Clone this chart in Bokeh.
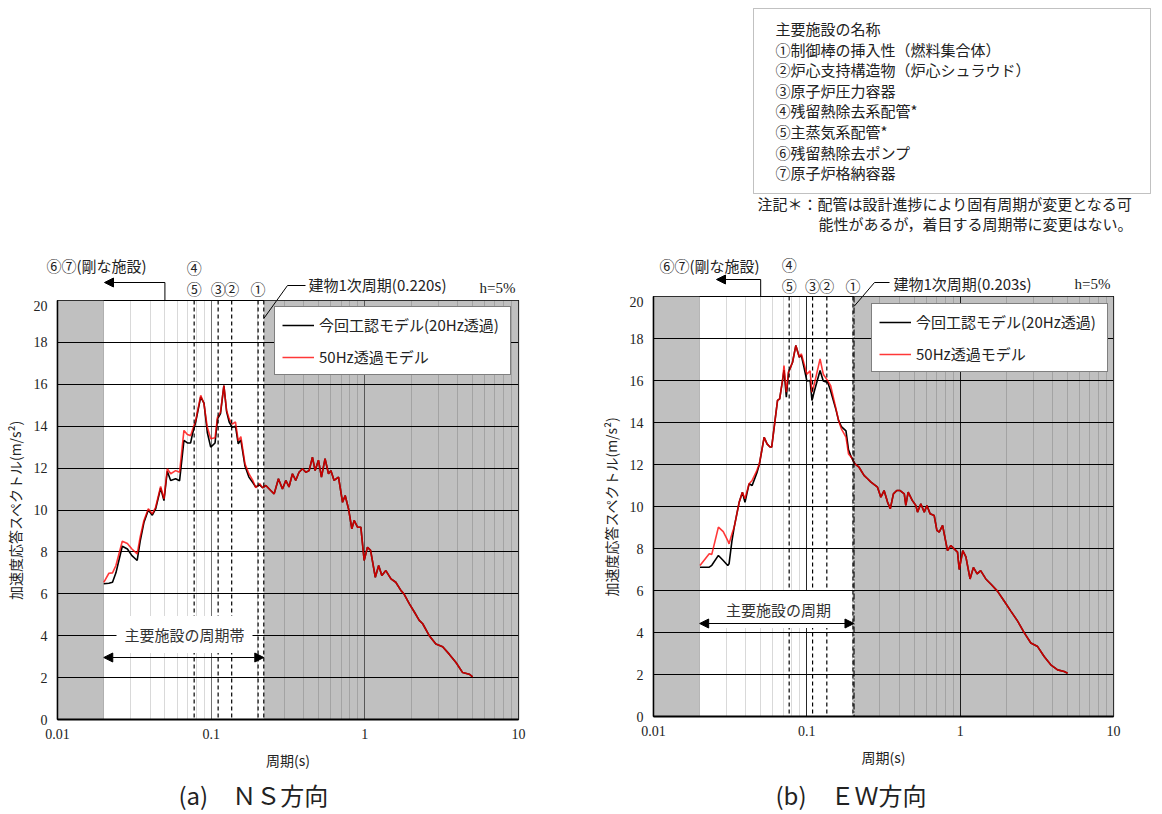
import math
from bokeh.plotting import figure
from bokeh.models import (Range1d, FixedTicker, CustomJSTickFormatter, Span, Label, Arrow,
                          NormalHead, BoxAnnotation, Legend, LegendItem)
from bokeh.layouts import row, column
from bokeh.embed import file_html
from bokeh.resources import INLINE

JP = "Noto Sans CJK JP"
SERIF = "Liberation Serif"
TXT = "#222222"

# ---------------- data ----------------
ns_period = [0.0200, 0.0216, 0.0228, 0.0240, 0.0264, 0.0285, 0.0305, 0.0330, 0.0345, 0.0365,
             0.0390, 0.0414, 0.0435, 0.0469, 0.0493, 0.0518, 0.0545, 0.0587, 0.0623, 0.0665,
             0.0700, 0.0735, 0.0754, 0.0793, 0.0855, 0.0898, 0.0944, 0.0993, 0.106, 0.110,
             0.115, 0.121, 0.126, 0.131, 0.137, 0.144, 0.150, 0.156, 0.166, 0.176,
             0.187, 0.195, 0.207, 0.216, 0.227, 0.244, 0.257, 0.274, 0.291, 0.306,
             0.321, 0.338, 0.355, 0.373, 0.393, 0.413, 0.434, 0.456, 0.475, 0.499,
             0.522, 0.551, 0.580, 0.601, 0.631, 0.674, 0.716, 0.745, 0.783, 0.823,
             0.852, 0.896, 0.942, 0.990, 1.04, 1.09, 1.17, 1.23, 1.29, 1.37,
             1.48, 1.59, 1.72, 1.80, 1.95, 2.10, 2.26, 2.38, 2.62, 2.90,
             3.21, 3.54, 3.92, 4.33, 4.78, 5.03]
ns_acc_20hz = [6.48, 6.50, 6.55, 7.00, 8.27, 8.14, 7.82, 7.59, 8.50, 9.40,
               10.00, 9.75, 10.05, 11.05, 10.45, 11.85, 11.41, 11.49, 11.40, 13.32,
               13.20, 13.20, 13.60, 14.20, 15.40, 15.10, 13.70, 13.00, 13.20, 14.35,
               14.60, 15.94, 14.70, 14.20, 13.95, 14.00, 13.16, 13.35, 12.10, 11.57,
               11.30, 11.10, 11.20, 11.06, 11.17, 10.93, 10.77, 11.49, 11.00, 11.41,
               11.10, 11.73, 11.41, 11.80, 11.97, 11.80, 11.88, 12.52, 11.88, 12.38,
               11.57, 12.45, 11.73, 11.88, 11.41, 11.57, 10.37, 10.69, 10.06, 9.10,
               9.50, 9.18, 9.18, 7.59, 8.22, 8.07, 6.79, 7.35, 6.87, 7.11,
               6.71, 6.55, 6.15, 5.99, 5.52, 5.13, 4.73, 4.57, 4.01, 3.60,
               3.47, 3.12, 2.72, 2.24, 2.16, 2.03]
ns_acc_50hz = [6.55, 6.98, 7.00, 7.35, 8.51, 8.40, 8.14, 7.91, 8.70, 9.50,
               10.06, 9.82, 10.13, 11.12, 10.53, 11.97, 11.73, 11.88, 11.80, 13.80,
               13.60, 13.55, 13.80, 14.27, 15.47, 15.07, 13.95, 13.40, 13.45, 14.43,
               14.67, 15.94, 14.75, 14.35, 14.10, 14.20, 13.30, 13.50, 12.20, 11.73,
               11.40, 11.06, 11.26, 11.06, 11.17, 10.93, 10.77, 11.49, 11.00, 11.41,
               11.10, 11.73, 11.41, 11.80, 11.97, 11.80, 11.88, 12.52, 11.88, 12.38,
               11.57, 12.45, 11.73, 11.88, 11.41, 11.57, 10.37, 10.69, 10.06, 9.10,
               9.50, 9.18, 9.18, 7.59, 8.22, 8.07, 6.79, 7.35, 6.87, 7.11,
               6.71, 6.55, 6.15, 5.99, 5.52, 5.13, 4.73, 4.57, 4.01, 3.60,
               3.47, 3.12, 2.72, 2.24, 2.16, 2.03]

ew_period = [0.0201, 0.0231, 0.0240, 0.0265, 0.0285, 0.0305, 0.0311, 0.0325, 0.0336, 0.0362,
             0.0380, 0.0395, 0.0420, 0.0440, 0.0472, 0.0490, 0.0527, 0.0550, 0.0575, 0.0590,
             0.0644, 0.0665, 0.0694, 0.0710, 0.0735, 0.0760, 0.0807, 0.0848, 0.0893, 0.0920,
             0.0960, 0.100, 0.105, 0.108, 0.112, 0.122, 0.128, 0.137, 0.143, 0.155,
             0.161, 0.168, 0.180, 0.187, 0.195, 0.206, 0.219, 0.236, 0.249, 0.262,
             0.289, 0.304, 0.319, 0.336, 0.350, 0.367, 0.386, 0.406, 0.432, 0.442,
             0.458, 0.487, 0.514, 0.527, 0.554, 0.583, 0.607, 0.637, 0.677, 0.705,
             0.730, 0.768, 0.787, 0.827, 0.869, 0.914, 0.961, 0.986, 1.04, 1.09,
             1.16, 1.22, 1.29, 1.36, 1.47, 1.59, 1.75, 1.94, 2.14, 2.37,
             2.62, 2.89, 3.20, 3.53, 3.90, 4.32, 4.77, 5.02]
ew_acc_20hz = [7.11, 7.11, 7.20, 7.67, 7.43, 7.19, 7.27, 8.38, 9.02, 10.20,
               10.68, 10.20, 11.08, 11.00, 11.60, 12.00, 13.30, 12.98, 12.83, 12.83,
               15.05, 15.13, 16.00, 16.50, 15.20, 16.40, 16.87, 17.67, 17.11, 17.20,
               16.60, 15.98, 16.00, 15.05, 15.50, 16.48, 15.98, 15.90, 15.50, 14.60,
               14.10, 13.80, 13.60, 12.70, 12.35, 12.03, 11.87, 11.48, 11.32, 11.16,
               10.92, 10.44, 10.76, 10.21, 9.89, 10.60, 10.76, 10.76, 10.60, 10.05,
               10.68, 10.29, 10.05, 9.73, 10.13, 9.73, 10.05, 9.65, 9.57, 8.86,
               8.78, 9.10, 8.70, 7.90, 8.14, 7.98, 7.83, 7.00, 7.90, 7.60,
               6.55, 7.10, 6.79, 6.95, 6.55, 6.30, 5.97, 5.49, 5.02, 4.54,
               3.98, 3.50, 3.33, 2.86, 2.46, 2.22, 2.14, 2.06]
ew_acc_50hz = [7.19, 7.75, 7.72, 9.02, 8.80, 8.38, 8.22, 8.70, 9.02, 10.20,
               10.68, 10.37, 11.08, 11.24, 11.71, 12.03, 13.30, 12.98, 12.83, 12.83,
               15.05, 15.13, 16.00, 16.71, 15.44, 16.40, 16.87, 17.67, 17.11, 17.27,
               16.79, 16.30, 16.46, 15.44, 15.84, 17.03, 16.30, 15.98, 15.75, 14.65,
               14.10, 13.70, 13.30, 12.50, 12.35, 12.03, 11.87, 11.48, 11.32, 11.16,
               10.92, 10.44, 10.76, 10.21, 9.89, 10.60, 10.76, 10.76, 10.60, 10.05,
               10.68, 10.29, 10.05, 9.73, 10.13, 9.73, 10.05, 9.65, 9.57, 8.86,
               8.78, 9.10, 8.70, 7.90, 8.14, 7.98, 7.83, 7.00, 7.90, 7.60,
               6.55, 7.10, 6.79, 6.95, 6.55, 6.30, 5.97, 5.49, 5.02, 4.54,
               3.98, 3.50, 3.33, 2.86, 2.46, 2.22, 2.14, 2.06]

x_major_ticks = [0.01, 0.1, 1, 10]
x_minor_ticks = [0.02, 0.03, 0.04, 0.05, 0.06, 0.07, 0.08, 0.09,
                 0.2, 0.3, 0.4, 0.5, 0.6, 0.7, 0.8, 0.9,
                 2, 3, 4, 5, 6, 7, 8, 9]
y_ticks = [0, 2, 4, 6, 8, 10, 12, 14, 16, 18, 20]

rigid_limit = 0.02          # 50 Hz : left edge of the facility period band
rigid_boundary = 0.05       # ⑥⑦ (rigid facilities) leader
ns_building_period = 0.220
ew_building_period = 0.203
facility_marks = ["①", "②", "③", "⑤"]
ns_facility_periods = [0.202, 0.136, 0.111, 0.0775]
ew_facility_periods = [0.200, 0.135, 0.109, 0.0767]
legend_labels = ["今回工認モデル(20Hz透過)", "50Hz透過モデル"]
facility_names = ["主要施設の名称",
                  "①制御棒の挿入性（燃料集合体）",
                  "②炉心支持構造物（炉心シュラウド）",
                  "③原子炉圧力容器",
                  "④残留熱除去系配管*",
                  "⑤主蒸気系配管*",
                  "⑥残留熱除去ポンプ",
                  "⑦原子炉格納容器"]
note_lines = ["注記＊：配管は設計進捗により固有周期が変更となる可",
              "能性があるが，着目する周期帯に変更はない。"]

X_MIN, X_MAX = x_major_ticks[0], x_major_ticks[-1]
Y_MIN, Y_MAX = y_ticks[0], y_ticks[-1]
PAGE_H = 812
BOTTOM_H = 36


def head():
    return NormalHead(size=9, fill_color="black", line_color="black")


def strip(W, H, xr, yr):
    f = figure(width=W, height=H, x_axis_type="log", x_range=xr, y_range=yr,
               x_axis_location=None, y_axis_location=None,
               output_backend="svg", toolbar_location=None, frame_align=False,
               min_border=0, min_border_left=0, min_border_right=0,
               min_border_top=0, min_border_bottom=0)
    f.outline_line_color = None
    f.background_fill_color = "white"
    f.border_fill_color = "white"
    f.grid.visible = False
    return f


def make_side(cfg):
    W = cfg["width"]
    page_x = cfg["page_x"]
    top_h = cfg["top_h"]
    bl, fw, fh = cfg["border_left"], cfg["frame_w"], cfg["frame_h"]
    chart_h = PAGE_H - top_h - BOTTOM_H
    f_left = page_x + bl                 # image x of frame left
    f_top = top_h                        # image y of frame top
    f_bottom = f_top + fh
    lx0, lx1 = math.log10(X_MIN), math.log10(X_MAX)

    def dx(px):
        return 10 ** (lx0 + (px - f_left) / fw * (lx1 - lx0))

    def dy(py):
        return (f_bottom - py) / fh * (Y_MAX - Y_MIN)

    # -------- main chart --------
    p = figure(width=W, height=chart_h, x_axis_type="log",
               x_range=Range1d(X_MIN, X_MAX), y_range=Range1d(Y_MIN, Y_MAX),
               output_backend="svg", toolbar_location=None, frame_align=False,
               min_border_left=bl, min_border_top=0,
               min_border_right=W - bl - fw, min_border_bottom=chart_h - fh)
    p.background_fill_color = "white"
    p.border_fill_color = "white"
    p.outline_line_color = "black"
    p.outline_line_width = 1.2

    bp = cfg["building"]
    p.quad(left=[X_MIN, bp], right=[rigid_limit, X_MAX], bottom=Y_MIN, top=Y_MAX,
           fill_color="#c0c0c0", line_color=None, level="image")

    ticker = FixedTicker(ticks=x_major_ticks, minor_ticks=x_minor_ticks)
    p.xaxis.ticker = ticker
    p.xgrid.ticker = ticker
    p.xaxis.formatter = CustomJSTickFormatter(
        code="return tick < 1 ? tick.toFixed(Math.round(-Math.log10(tick))) : tick.toFixed(0);")
    p.yaxis.ticker = FixedTicker(ticks=y_ticks)
    p.ygrid.ticker = FixedTicker(ticks=y_ticks)

    for ax in (p.xaxis, p.yaxis):
        ax.major_tick_line_color = None
        ax.minor_tick_line_color = None
        ax.major_tick_out = 0
        ax.major_tick_in = 0
        ax.minor_tick_out = 0
        ax.minor_tick_in = 0
        ax.axis_line_color = "black"
        ax.major_label_text_font = SERIF
        ax.major_label_text_font_size = "14px"
        ax.major_label_text_color = TXT
        ax.axis_label_text_font = JP
        ax.axis_label_text_font_size = "14px"
        ax.axis_label_text_font_style = "normal"
        ax.axis_label_text_color = TXT
    p.xaxis.axis_line_width = 2
    p.yaxis.axis_line_width = 1.5
    p.xaxis.major_label_standoff = 9
    p.yaxis.major_label_standoff = 10
    p.xaxis.axis_label = "周期(s)"
    p.yaxis.axis_label = "加速度応答スペクトル(m/s²)"
    p.xaxis.axis_label_standoff = 8
    p.yaxis.axis_label_standoff = 6

    p.xgrid.grid_line_color = "black"
    p.xgrid.grid_line_alpha = cfg["major_alpha"]
    p.xgrid.minor_grid_line_color = "black"
    p.xgrid.minor_grid_line_alpha = 0.15
    p.ygrid.grid_line_color = "black"
    p.ygrid.grid_line_alpha = 1.0
    p.ygrid.grid_line_width = 1

    r20 = p.line(cfg["period"], cfg["acc20"], line_color="black", line_width=1.6)
    r50 = p.line(cfg["period"], cfg["acc50"], line_color="red", line_width=1.6, line_alpha=0.78)

    for per in cfg["facility"]:
        p.add_layout(Span(location=per, dimension="height", line_color="black",
                          line_width=1.2, line_dash="4 3"))
    p.add_layout(Span(location=bp, dimension="height", line_color="black",
                      line_width=1.2, line_dash=cfg["building_dash"]))

    legend = Legend(items=[LegendItem(label=legend_labels[0], renderers=[r20]),
                           LegendItem(label=legend_labels[1], renderers=[r50])],
                    location=cfg["legend_loc"], border_line_color="black", border_line_width=1.5,
                    background_fill_color="white", background_fill_alpha=1.0,
                    label_text_font=JP, label_text_font_size="15px", label_text_color=TXT,
                    glyph_width=32, glyph_height=20, label_height=20, label_width=184,
                    spacing=11, padding=7, margin=0, label_standoff=5)
    p.add_layout(legend)

    a = cfg["ann"]
    p.add_layout(Label(x=dx(a["band_text"][0]), y=dy(a["band_text"][1]), text=cfg["band_text"],
                       text_font=JP, text_font_size="15px", text_align="center",
                       text_baseline="middle", text_color="#333333",
                       background_fill_color="white", background_fill_alpha=1.0, padding=8))
    p.add_layout(Arrow(x_start=rigid_limit, y_start=dy(a["band_arrow_y"]),
                       x_end=bp, y_end=dy(a["band_arrow_y"]), start=head(), end=head(),
                       line_color="black", line_width=1.2))
    ly0, lxm, lym, lx2 = a["leader"]
    p.add_layout(Arrow(x_start=bp, y_start=dy(ly0), x_end=dx(lxm), y_end=dy(lym),
                       start=None, end=None, line_color="black", line_width=1))

    # -------- annotation strip above the chart (y in image pixels) --------
    t = strip(W, top_h, Range1d(dx(page_x), dx(page_x + W)), Range1d(top_h, 0))

    def lab(fig, x, y, text, size="15px", align="left", font=JP):
        fig.add_layout(Label(x=x, y=y, text=text, text_font=font, text_font_size=size,
                             text_align=align, text_baseline="middle", text_color=TXT))

    lab(t, dx(a["rigid_text"][0]), a["rigid_text"][1], "⑥⑦(剛な施設)")
    t.add_layout(Arrow(x_start=rigid_boundary, y_start=a["rigid_arrow_y"],
                       x_end=dx(a["rigid_arrow_tip"]), y_end=a["rigid_arrow_y"],
                       end=head(), line_color="black", line_width=1))
    t.add_layout(Arrow(x_start=rigid_boundary, y_start=a["rigid_arrow_y"],
                       x_end=rigid_boundary, y_end=top_h + 2, start=None, end=None,
                       line_color="black", line_width=1))
    for per, mark in zip(cfg["facility"], facility_marks):
        lab(t, per, a["num_y"], mark, align="center")
    lab(t, cfg["facility"][-1], a["num4_y"], "④", align="center")
    t.add_layout(Arrow(x_start=bp, y_start=ly0, x_end=dx(lxm), y_end=lym,
                       start=None, end=None, line_color="black", line_width=1))
    t.add_layout(Arrow(x_start=dx(lxm), y_start=lym, x_end=dx(lx2), y_end=lym,
                       start=None, end=None, line_color="black", line_width=1))
    lab(t, dx(a["bld_text"][0]), a["bld_text"][1], cfg["building_text"])
    lab(t, dx(a["h_text"][0]), a["h_text"][1], "h=5%", align="right", font=SERIF)

    # -------- caption strip below the chart --------
    b = strip(W, BOTTOM_H, Range1d(dx(page_x), dx(page_x + W)),
              Range1d(PAGE_H, PAGE_H - BOTTOM_H))
    lab(b, dx(a["caption"][0]), a["caption"][1], cfg["caption"], size="24px", align="left")

    return t, p, b, dx


left_cfg = dict(width=580, page_x=0, top_h=300, border_left=57, frame_w=461, frame_h=419,
                period=ns_period, acc20=ns_acc_20hz, acc50=ns_acc_50hz,
                building=ns_building_period, building_dash="4 3", major_alpha=0.55,
                facility=ns_facility_periods, legend_loc=(217, 344),
                building_text="建物1次周期(0.220s)", band_text="主要施設の周期帯",
                caption="(a)　ＮＳ方向",
                ann=dict(rigid_text=(46, 265), rigid_arrow_y=282, rigid_arrow_tip=104,
                         num_y=288, num4_y=267,
                         leader=(318, 287, 285, 305),
                         bld_text=(308, 284), h_text=(515, 287),
                         band_text=(184, 634), band_arrow_y=657,
                         caption=(178, 794)))

right_cfg = dict(width=580, page_x=580, top_h=296, border_left=73, frame_w=460, frame_h=420,
                 period=ew_period, acc20=ew_acc_20hz, acc50=ew_acc_50hz,
                 building=ew_building_period, building_dash="6 2 1 2", major_alpha=0.85,
                 facility=ew_facility_periods, legend_loc=(218, 344),
                 building_text="建物1次周期(0.203s)", band_text="主要施設の周期",
                 caption="(b)　ＥＷ方向",
                 ann=dict(rigid_text=(659, 265), rigid_arrow_y=279, rigid_arrow_tip=716,
                          num_y=285, num4_y=264,
                          leader=(306, 874, 282, 889),
                          bld_text=(893, 283), h_text=(1110, 283),
                          band_text=(778, 609), band_arrow_y=623,
                          caption=(775, 794)))

lt, lp, lb, _ = make_side(left_cfg)
rt, rp, rb, rdx = make_side(right_cfg)

# facility name box and note (top right)
rt.add_layout(BoxAnnotation(left=rdx(753), right=rdx(1150), top=8, bottom=193,
                            fill_color="white", fill_alpha=0.0, line_color="#333333",
                            line_width=1))
for i, name in enumerate(facility_names):
    rt.add_layout(Label(x=rdx(775), y=28 + 20.6 * i, text=name, text_font=JP,
                        text_font_size="15px", text_align="left", text_baseline="middle",
                        text_color=TXT))
rt.add_layout(Label(x=rdx(757), y=203, text=note_lines[0], text_font=JP,
                    text_font_size="15px", text_align="left", text_baseline="middle",
                    text_color=TXT))
rt.add_layout(Label(x=rdx(818), y=223, text=note_lines[1], text_font=JP,
                    text_font_size="15px", text_align="left", text_baseline="middle",
                    text_color=TXT))

layout = row(column(lt, lp, lb), column(rt, rp, rb))
open("out.html", "w").write(file_html(layout, INLINE))
